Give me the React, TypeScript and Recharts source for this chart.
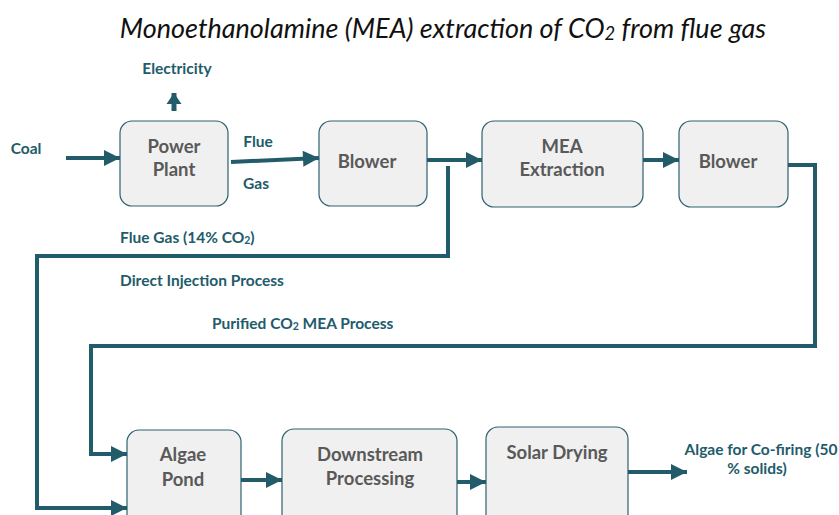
import React from 'react';
import { ComposedChart, XAxis, YAxis, ReferenceArea, Line, Scatter } from 'recharts';

// diagram coordinates are in picture pixels (x: 0..839, y: 0..515 from the top)
const units = [
  { id: 'power', x1: 120, x2: 228, y1: 121, y2: 206 },
  { id: 'blower1', x1: 319, x2: 427, y1: 121, y2: 206 },
  { id: 'mea', x1: 482, x2: 643, y1: 121, y2: 207 },
  { id: 'blower2', x1: 679, x2: 788, y1: 121, y2: 207 },
  { id: 'pond', x1: 127, x2: 241, y1: 430, y2: 530 },
  { id: 'downstream', x1: 282, x2: 457, y1: 429, y2: 530 },
  { id: 'solar', x1: 486, x2: 628, y1: 427, y2: 530 },
];

const unitLabels = [
  { x: 174, y: 146, text: 'Power' },
  { x: 174, y: 169, text: 'Plant' },
  { x: 367, y: 161, text: 'Blower' },
  { x: 562, y: 146, text: 'MEA' },
  { x: 562, y: 169, text: 'Extraction' },
  { x: 728, y: 161, text: 'Blower' },
  { x: 183, y: 454, text: 'Algae' },
  { x: 183, y: 479, text: 'Pond' },
  { x: 370, y: 454, text: 'Downstream' },
  { x: 370, y: 478, text: 'Processing' },
  { x: 557, y: 452, text: 'Solar Drying' },
];

const flowLabels = [
  { x: 177, y: 68, text: 'Electricity', anchor: 'middle' },
  { x: 26, y: 148, text: 'Coal', anchor: 'middle' },
  { x: 258, y: 141, text: 'Flue', anchor: 'middle' },
  { x: 256, y: 183, text: 'Gas', anchor: 'middle' },
  { x: 120, y: 237, text: 'Flue Gas (14% CO_2)', anchor: 'start' },
  { x: 120, y: 280, text: 'Direct Injection Process', anchor: 'start' },
  { x: 212, y: 323, text: 'Purified CO_2 MEA Process', anchor: 'start' },
  { x: 761, y: 449, text: 'Algae for Co-firing (50', anchor: 'middle' },
  { x: 757, y: 468, text: '% solids)', anchor: 'middle' },
];

const titleLabel = [{ x: 443, y: 27, text: 'Monoethanolamine (MEA) extraction of CO_2 from flue gas' }];

const coalFeed = [{ x: 66, y: 158 }, { x: 120, y: 158 }];
const electricityOut = [{ x: 174, y: 111 }, { x: 174, y: 93 }];
const flueGas = [{ x: 231, y: 162 }, { x: 319, y: 158 }];
const blowerToMea = [{ x: 427, y: 160 }, { x: 482, y: 160 }];
const meaToBlower = [{ x: 643, y: 160 }, { x: 679, y: 160 }];
const directInjection = [
  { x: 448, y: 166 }, { x: 448, y: 256 }, { x: 37, y: 256 }, { x: 37, y: 508 }, { x: 127, y: 508 },
];
const purifiedCo2 = [
  { x: 788, y: 165 }, { x: 815, y: 165 }, { x: 815, y: 346 }, { x: 91, y: 346 }, { x: 91, y: 454 }, { x: 127, y: 454 },
];
const pondOut = [{ x: 241, y: 480 }, { x: 282, y: 480 }];
const downstreamOut = [{ x: 457, y: 482 }, { x: 486, y: 482 }];
const solarOut = [{ x: 628, y: 472 }, { x: 687, y: 472 }];

const connectors = [
  coalFeed, electricityOut, flueGas, blowerToMea, meaToBlower,
  directInjection, purifiedCo2, pondOut, downstreamOut, solarOut,
];

const TEAL = '#225b6a';
const GREY = '#595959';
const FONT = 'Lato, "DejaVu Sans", sans-serif';

function rich(text: string, size: number) {
  const parts = text.split(/_(\d)/);
  return parts.map((part, i) =>
    i % 2 === 1 ? (
      <tspan key={i} fontSize={size * 0.68} dy={size * 0.22}>{part}</tspan>
    ) : (
      <tspan key={i} dy={i > 0 ? -size * 0.22 : 0}>{part}</tspan>
    )
  );
}

const UnitBox = (p: any) => (
  <rect x={p.x} y={p.y} width={p.width} height={p.height} rx={12} ry={12}
    fill="#f0f0f0" stroke="#2e6270" strokeWidth={1.2} />
);

const UnitText = (p: any) => (
  <text x={p.cx} y={p.cy} textAnchor="middle" dominantBaseline="central"
    fontFamily={FONT} fontWeight={700} fontSize={18.5} fill={GREY}>
    {p.payload.text}
  </text>
);

const FlowText = (p: any) => (
  <text x={p.cx} y={p.cy} textAnchor={p.payload.anchor} dominantBaseline="central"
    fontFamily={FONT} fontWeight={700} fontSize={15.5} fill={TEAL}>
    {rich(p.payload.text, 15.5)}
  </text>
);

const TitleText = (p: any) => (
  <text x={p.cx} y={p.cy} textAnchor="middle" dominantBaseline="central"
    fontFamily={FONT} fontStyle="italic" fontSize={27} fill="#111">
    {rich(p.payload.text, 27)}
  </text>
);

function arrowDot(data: { x: number; y: number }[], len: number, half: number) {
  return (p: any) => {
    const last = data.length - 1;
    if (p.index !== last) return <g key={`d${p.index}`} />;
    const prev = data[last - 1];
    const cur = data[last];
    const ang = (Math.atan2(cur.y - prev.y, cur.x - prev.x) * 180) / Math.PI;
    return (
      <polygon key={`d${p.index}`} points={`0,0 ${-len},${-half} ${-len},${half}`} fill={TEAL}
        transform={`translate(${p.cx},${p.cy}) rotate(${ang})`} />
    );
  };
}

export default function App() {
  return (
    <div style={{ position: 'absolute', left: 0, top: 0, background: '#fff' }}>
      <ComposedChart width={839} height={515} margin={{ top: 0, right: 0, bottom: 0, left: 0 }}>
        <XAxis type="number" dataKey="x" domain={[0, 839]} allowDataOverflow hide />
        <YAxis type="number" dataKey="y" domain={[0, 515]} allowDataOverflow reversed hide />
        {units.map((u) => (
          <ReferenceArea key={u.id} x1={u.x1} x2={u.x2} y1={u.y1} y2={u.y2}
            ifOverflow="visible" shape={UnitBox} />
        ))}
        {connectors.map((c, i) => {
          const small = c === electricityOut;
          return (
            <Line key={i} data={c} dataKey="y" type="linear" stroke={TEAL}
              strokeWidth={small ? 5 : 4} strokeLinejoin="miter"
              dot={small ? arrowDot(c, 11, 7.5) : arrowDot(c, 16, 8)} activeDot={false}
              isAnimationActive={false} legendType="none" />
          );
        })}
        <Scatter data={unitLabels} shape={UnitText} isAnimationActive={false} />
        <Scatter data={flowLabels} shape={FlowText} isAnimationActive={false} />
        <Scatter data={titleLabel} shape={TitleText} isAnimationActive={false} />
      </ComposedChart>
    </div>
  );
}
